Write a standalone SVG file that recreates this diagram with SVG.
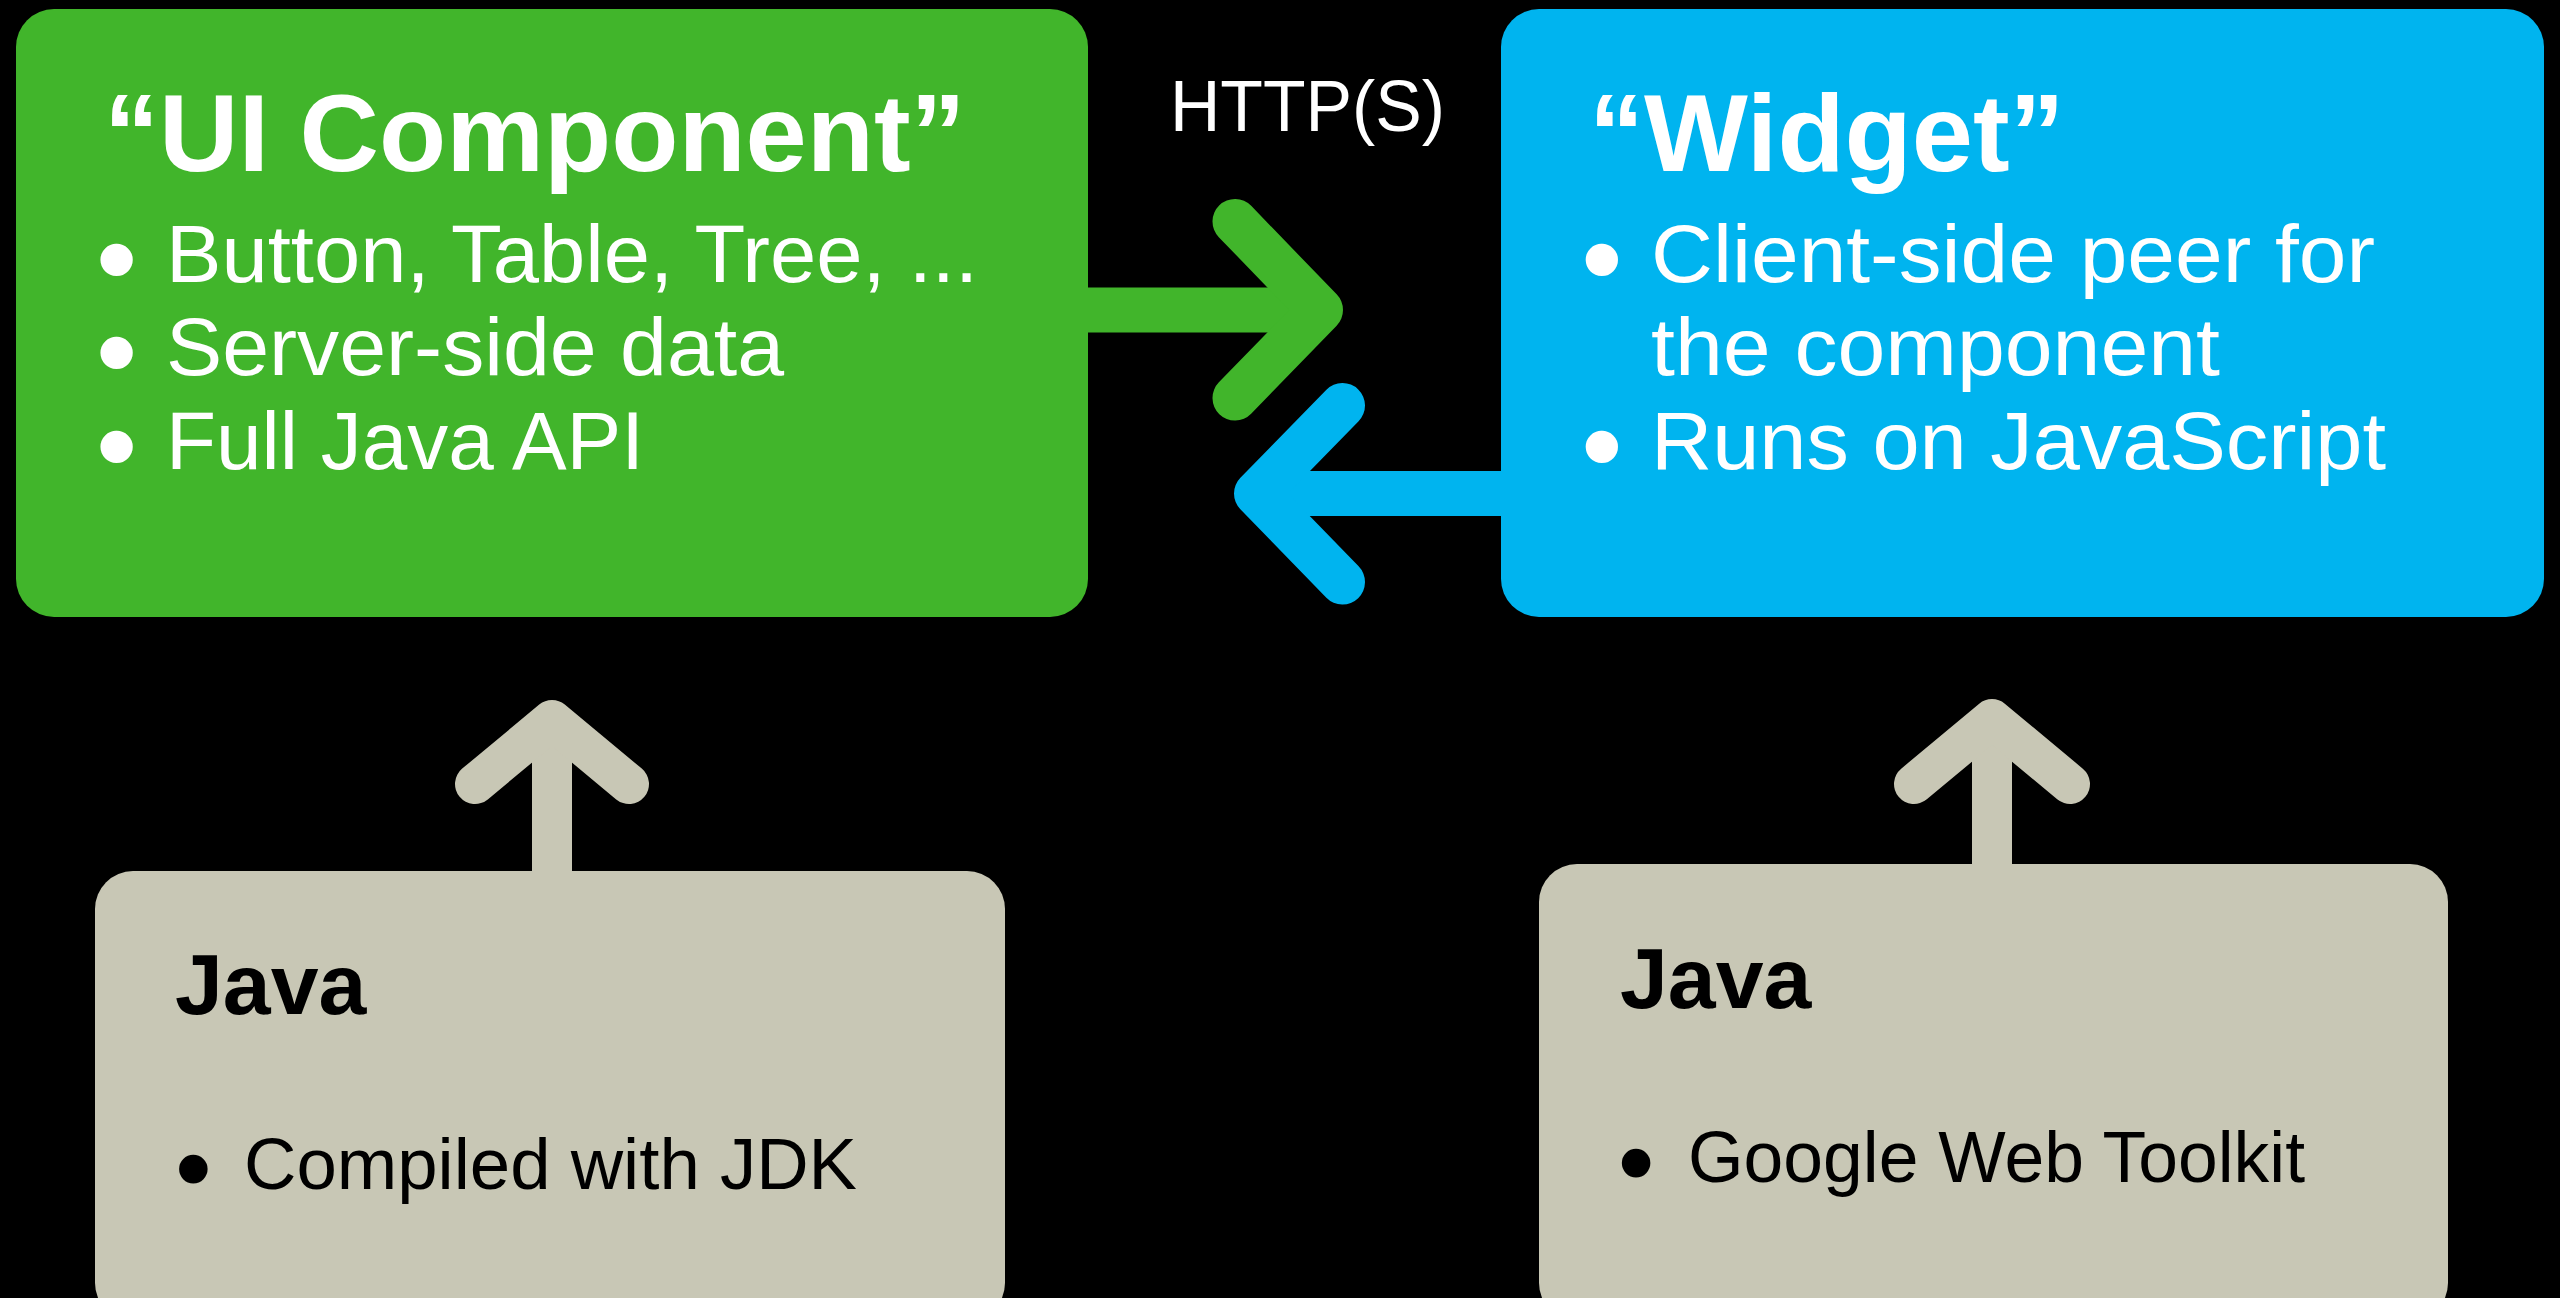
<svg xmlns="http://www.w3.org/2000/svg" width="2560" height="1298" viewBox="0 0 2560 1298">
  <style>
    .txt { font-family: "Liberation Sans", Arial, sans-serif; }
    .title { font-weight: bold; font-size: 110px; }
    .body { font-size: 82px; }
    .bul { font-size: 82px; stroke: #ffffff; stroke-width: 10; stroke-linejoin: round; }
    .gtitle { font-weight: bold; font-size: 86px; }
    .gbody { font-size: 72px; }
    .gbul { font-size: 72px; stroke: #000000; stroke-width: 9; stroke-linejoin: round; }
    .white { fill: #ffffff; }
    .black { fill: #000000; }
    .label { font-size: 72px; fill: #ffffff; }
    .shaft { fill: none; stroke-linecap: butt; }
    .head { fill: none; stroke-linecap: round; stroke-linejoin: round; }
    .green { stroke: #41b52b; stroke-width: 45; }
    .blue { stroke: #00b4ef; stroke-width: 45; }
    .gray { stroke: #c8c7b5; stroke-width: 40; }
  </style>
  <rect x="0" y="0" width="2560" height="1298" fill="#000000"/>

  <g id="connectors">
    <g id="edge-ui-to-widget">
      <line class="shaft green" x1="1080" y1="310" x2="1315" y2="310"/>
      <polyline class="head green" points="1235,221.5 1320.5,310 1235,398"/>
    </g>
    <g id="edge-widget-to-ui">
      <line class="shaft blue" x1="1510" y1="493.5" x2="1262" y2="493.5"/>
      <polyline class="head blue" points="1342.5,405.5 1256.5,493.5 1342.5,582"/>
    </g>
    <g id="edge-java-to-ui">
      <line class="shaft gray" x1="552" y1="880" x2="552" y2="725"/>
      <polyline class="head gray" points="475,784 552,720 629,784"/>
    </g>
    <g id="edge-gwt-to-widget">
      <line class="shaft gray" x1="1992" y1="873" x2="1992" y2="724"/>
      <polyline class="head gray" points="1914,784 1992,719 2070,784"/>
    </g>
    <text id="label-http" class="txt label" x="1170" y="131" textLength="275" lengthAdjust="spacingAndGlyphs">HTTP(S)</text>
  </g>

  <g id="node-ui-component">
    <rect x="16" y="9" width="1072" height="608" rx="38" ry="38" fill="#41b52b"/>
    <text class="txt white"><tspan class="title" x="104" y="171">“UI Component”</tspan><tspan class="bul" x="102.3" y="287">•</tspan><tspan class="body" x="166" y="282" textLength="812" lengthAdjust="spacingAndGlyphs">Button, Table, Tree, ...</tspan><tspan class="bul" x="102.3" y="380">•</tspan><tspan class="body" x="166" y="375" textLength="618" lengthAdjust="spacingAndGlyphs">Server-side data</tspan><tspan class="bul" x="102.3" y="474">•</tspan><tspan class="body" x="166" y="469" textLength="478" lengthAdjust="spacingAndGlyphs">Full Java API</tspan></text>
  </g>

  <g id="node-widget">
    <rect x="1501" y="9" width="1043" height="608" rx="38" ry="38" fill="#00b4ef"/>
    <text class="txt white"><tspan class="title" x="1589" y="171">“Widget”</tspan><tspan class="bul" x="1587.6" y="287">•</tspan><tspan class="body" x="1651" y="282" textLength="724" lengthAdjust="spacingAndGlyphs">Client-side peer for</tspan><tspan class="body" x="1651" y="375" textLength="569" lengthAdjust="spacingAndGlyphs">the component</tspan><tspan class="bul" x="1587.6" y="474">•</tspan><tspan class="body" x="1651" y="469" textLength="735" lengthAdjust="spacingAndGlyphs">Runs on JavaScript</tspan></text>
  </g>

  <g id="node-java-jdk">
    <rect x="95" y="871" width="910" height="450" rx="38" ry="38" fill="#c8c7b5"/>
    <text class="txt black"><tspan class="gtitle" x="175" y="1014">Java</tspan><tspan class="gbul" x="180.7" y="1193">•</tspan><tspan class="gbody" x="244" y="1189" textLength="613" lengthAdjust="spacingAndGlyphs">Compiled with JDK</tspan></text>
  </g>

  <g id="node-java-gwt">
    <rect x="1539" y="864" width="909" height="457" rx="38" ry="38" fill="#c8c7b5"/>
    <text class="txt black"><tspan class="gtitle" x="1620" y="1008">Java</tspan><tspan class="gbul" x="1623.4" y="1186.6">•</tspan><tspan class="gbody" x="1688" y="1182" textLength="617" lengthAdjust="spacingAndGlyphs">Google Web Toolkit</tspan></text>
  </g>
</svg>
